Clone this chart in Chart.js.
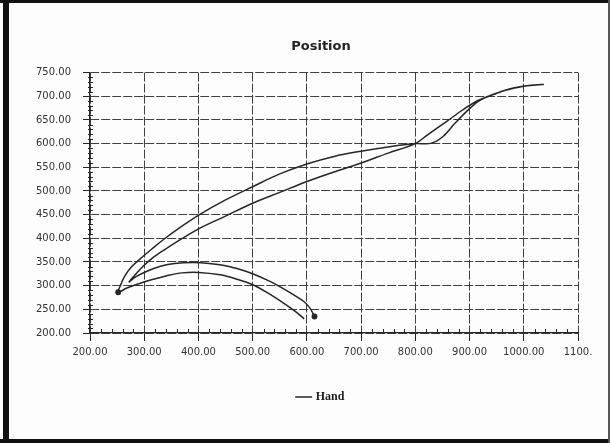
<!DOCTYPE html>
<html>
<head>
<meta charset="utf-8">
<script src="https://cdn.jsdelivr.net/npm/chart.js@4.4.1/dist/chart.umd.min.js"></script>
<style>
  html, body { margin: 0; padding: 0; background: #fdfdfd; }
  #wrap { position: relative; width: 610px; height: 443px; }
  canvas { display: block; }
</style>
</head>
<body>
<div id="wrap"><canvas id="c" width="610" height="443"></canvas></div>
<script>
// Hand trajectory (x, y) in drawing order
const handX = [
  595, 578, 557, 530, 500, 470, 440, 400, 370, 342, 315, 290, 268,
  252,
  256, 263, 275, 298, 320, 335, 365, 402, 450, 500, 550, 600, 650, 700, 750, 800,
  830, 851, 873, 901, 920, 945, 975, 1005, 1036,
  1000, 965, 935, 912, 887, 858, 822, 800, 750, 700, 650, 600, 550, 500, 450, 402,
  365, 335, 315, 298, 285, 272,
  285, 306, 330, 356, 390, 420, 450, 480, 500, 530, 550, 575, 595, 606, 614
];
const handY = [
  230, 246, 263, 283, 302, 314, 323, 328, 327, 321, 313, 304, 295,
  286,
  300, 318, 338, 362, 383, 397, 422, 450, 481, 509, 536, 557, 573, 584, 593, 600,
  601, 615, 643, 675, 692, 704, 716, 722, 725,
  721, 712, 700, 689, 671, 647, 618, 600, 580, 559, 540, 520, 497, 474, 447, 421,
  396, 374, 358, 341, 325, 308,
  319, 331, 341, 347, 349, 347, 342, 333, 325, 310, 298, 281, 266, 252, 235
];
const seriesName = 'Hand';
const chartTitle = 'Position';
const xTicks = [200, 300, 400, 500, 600, 700, 800, 900, 1000, 1100];
const yTicks = [200, 250, 300, 350, 400, 450, 500, 550, 600, 650, 700, 750];
const xLastLabel = '1100.';

const points = handX.map((x, i) => ({ x: x, y: handY[i] }));
const dotIdx = [13, points.length - 1];

const ink = '#262626';
const gridInk = '#404040';

// page frame and small minor ticks along both axes
const framePlugin = {
  id: 'frame',
  beforeDraw(chart) {
    const ctx = chart.ctx;
    ctx.save();
    ctx.fillStyle = '#fdfdfd';
    ctx.fillRect(0, 0, chart.width, chart.height);
    ctx.fillStyle = '#111';
    ctx.fillRect(0, 0, chart.width, 3);
    ctx.fillRect(3, 0, 6, chart.height);
    ctx.fillRect(0, chart.height - 4, chart.width, 4);
    ctx.fillStyle = '#555';
    ctx.fillRect(chart.width - 2, 0, 2, chart.height);
    ctx.restore();
  },
  afterDraw(chart) {
    const ctx = chart.ctx;
    const xs = chart.scales.x, ys = chart.scales.y;
    const a = chart.chartArea;
    ctx.save();
    ctx.strokeStyle = ink;
    ctx.lineWidth = 1;
    ctx.beginPath();
    for (let v = 200; v <= 1100; v += 20) {
      if (v % 100 === 0) continue;
      const px = Math.round(xs.getPixelForValue(v)) + 0.5;
      ctx.moveTo(px, a.bottom);
      ctx.lineTo(px, a.bottom - 4);
    }
    for (let v = 200; v <= 750; v += 10) {
      if (v % 50 === 0) continue;
      const py = Math.round(ys.getPixelForValue(v)) + 0.5;
      ctx.moveTo(a.left - 2, py);
      ctx.lineTo(a.left + 3, py);
    }
    ctx.stroke();
    ctx.restore();
  }
};

new Chart(document.getElementById('c'), {
  type: 'scatter',
  data: {
    datasets: [{
      label: seriesName,
      data: points,
      showLine: true,
      borderColor: ink,
      backgroundColor: ink,
      borderWidth: 1.5,
      tension: 0.35,
      pointRadius: points.map((p, i) => dotIdx.includes(i) ? 2.2 : 0),
      pointHoverRadius: 0,
      fill: false
    }]
  },
  options: {
    responsive: false,
    animation: false,
    events: [],
    layout: { padding: { left: 32, right: 0, top: 0, bottom: 30 } },
    plugins: {
      title: {
        display: true,
        text: chartTitle,
        color: '#222',
        font: { family: 'DejaVu Sans', size: 13, weight: 'bold' },
        padding: { top: 39, bottom: 18 }
      },
      legend: {
        position: 'bottom',
        labels: {
          color: '#222',
          font: { family: 'Liberation Serif', size: 12, weight: 'bold' },
          usePointStyle: true,
          pointStyle: 'line',
          boxWidth: 12,
          padding: 10
        }
      },
      tooltip: { enabled: false }
    },
    scales: {
      x: {
        type: 'linear',
        min: 200, max: 1100,
        afterBuildTicks(s) { s.ticks = xTicks.map(v => ({ value: v })); },
        afterFit(s) { s.height = 48; },
        ticks: {
          color: '#333',
          font: { family: 'DejaVu Sans', size: 10 },
          padding: 5,
          maxRotation: 0,
          autoSkip: false,
          callback: (v) => v === 1100 ? xLastLabel : Number(v).toFixed(2)
        },
        grid: { color: gridInk, lineWidth: 1, tickLength: 8, tickColor: ink },
        border: { display: true, color: ink, width: 1.2, dash: [9, 2] }
      },
      y: {
        type: 'linear',
        min: 200, max: 750,
        afterBuildTicks(s) { s.ticks = yTicks.map(v => ({ value: v })); },
        afterFit(s) { s.width = 58; },
        ticks: {
          color: '#333',
          font: { family: 'DejaVu Sans', size: 10 },
          padding: 12,
          autoSkip: false,
          callback: (v) => Number(v).toFixed(2)
        },
        grid: { color: gridInk, lineWidth: 1, tickLength: 7, tickColor: ink },
        border: { display: true, color: ink, width: 1.2, dash: [9, 2] }
      },
      yPad: {
        type: 'linear',
        position: 'right',
        display: true,
        ticks: { display: false },
        grid: { display: false },
        border: { display: false },
        afterFit(s) { s.width = 32; }
      }
    }
  },
  plugins: [framePlugin]
});
</script>
</body>
</html>
